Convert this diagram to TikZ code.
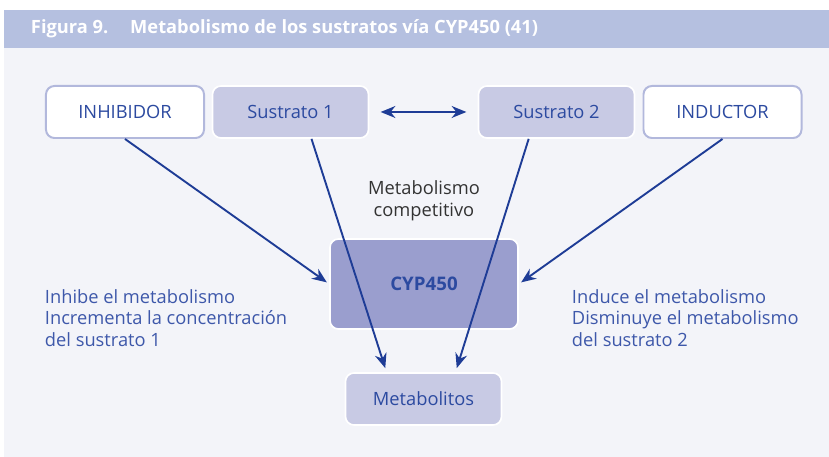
\documentclass[tikz,border=0pt]{standalone}
\usepackage{fontspec}
\setmainfont{Open Sans}
\usetikzlibrary{arrows.meta}
\definecolor{cyband}{RGB}{181,192,224}
\definecolor{cypanel}{RGB}{243,244,249}
\definecolor{cylight}{RGB}{200,202,228}
\definecolor{cydark}{RGB}{154,158,206}
\definecolor{cyedge}{RGB}{178,184,220}
\definecolor{cytext}{RGB}{44,74,160}
\definecolor{cynote}{RGB}{62,88,170}
\definecolor{cyarrow}{RGB}{30,60,150}
\definecolor{cygray}{RGB}{51,51,51}

\begin{document}
\begin{tikzpicture}[x=0.025cm,y=0.025cm,
  box/.style={rounded corners=6pt,minimum height=1.3cm,text=cytext,font=\fontsize{13}{15}\selectfont},
  agentbox/.style={box,fill=white,draw=cyedge,line width=1.4pt,minimum width=3.95cm},
  subbox/.style={box,fill=cylight,draw=white,line width=1.2pt,minimum width=3.9cm},
  note/.style={text=cynote,align=left,anchor=west,font=\fontsize{13}{15.3}\selectfont},
  link/.style={cyarrow,line width=1.35pt,-{Stealth[length=10.5pt,width=8.5pt]}}]
  % frame and heading
  \useasboundingbox (0,0) rectangle (829,457);
  \fill[cypanel] (4,0) rectangle (829,409);
  \fill[cyband] (4,409) rectangle (829,447);
  \node[anchor=west,text=white,font=\fontsize{13}{15}\bfseries]
    (title) at (26,428) {Figura 9.\hspace{1.2em}Metabolismo de los sustratos vía CYP450 (41)};
  % boxes
  \node[agentbox] (inhib) at (125,345) {INHIBIDOR};
  \node[subbox] (sub1) at (290.5,345) {Sustrato 1};
  \node[subbox] (sub2) at (556.5,345) {Sustrato 2};
  \node[agentbox] (induc) at (722.5,345) {INDUCTOR};
  \node[box,fill=cydark,draw=white,line width=1.2pt,minimum width=4.7cm,minimum height=2.25cm,
    font=\fontsize{13.3}{15}\bfseries] (cyp) at (424,173) {CYP450};
  \node[subbox] (metab) at (423.5,58) {Metabolitos};
  % texts
  \node[text=cygray,align=center,font=\fontsize{13}{15.3}\selectfont] (comp) at (424,256)
    {Metabolismo\\competitivo};
  \node[note] (left) at (40,139)
    {Inhibe el metabolismo\\Incrementa la concentración\\del sustrato 1};
  \node[note] (right) at (567,139)
    {Induce el metabolismo\\Disminuye el metabolismo\\del sustrato 2};
  % arrows
  \draw[link,{Stealth[length=10.5pt,width=8.5pt]}-{Stealth[length=10.5pt,width=8.5pt]},
    shorten <=8pt,shorten >=8pt] (sub1) -- (sub2);
  \draw[link,shorten >=2pt] (inhib.south) -- (cyp.west);
  \draw[link,shorten >=2pt] (induc.south) -- (cyp.east);
  \draw[link,shorten >=3pt] (sub1.-52) -- (metab.144);
  \draw[link,shorten >=3pt] (sub2.-136) -- (metab.40);
\end{tikzpicture}
\end{document}
